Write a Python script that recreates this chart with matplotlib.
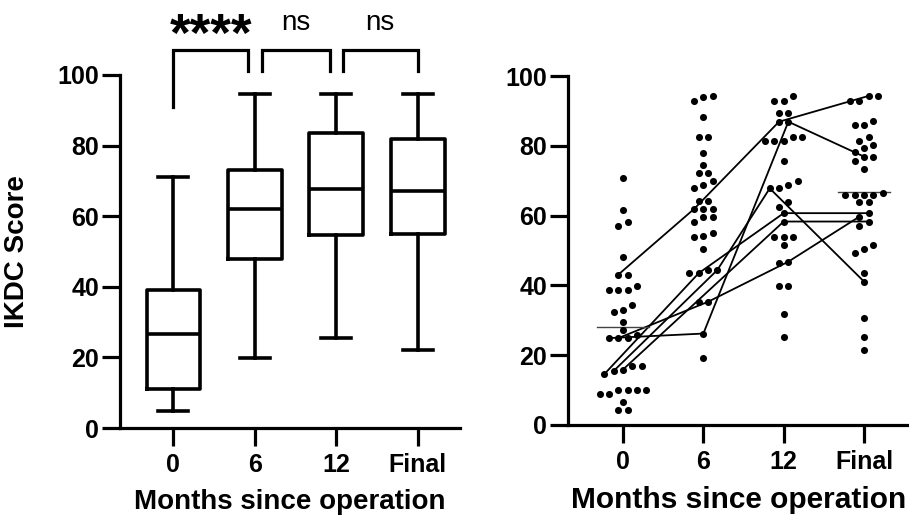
import numpy as np
import matplotlib
matplotlib.use("Agg")
import matplotlib.pyplot as plt

plt.rcParams["font.family"] = ["Liberation Sans", "DejaVu Sans"]

#DATA
groups = ["0", "6", "12", "Final"]

# box summary (min, q1, median, q3, max)
box_min = [4.8, 19.8, 25.5, 22.0]
box_q1 = [11.0, 48.0, 54.7, 55.0]
box_med = [26.6, 62.0, 67.7, 67.0]
box_q3 = [39.0, 73.0, 83.5, 82.0]
box_max = [71.0, 94.5, 94.5, 94.5]

sig_labels = ["****", "ns", "ns"]

# individual IKDC scores (right panel)
scores_0 = [70.9, 61.6, 58.1, 57.1, 48.1, 43.1, 43.1, 39.8, 38.6, 38.6, 38.6,
            34.3, 32.9, 32.4, 29.5, 27.3, 25.7, 24.9, 24.9, 24.9, 16.9, 16.9,
            15.9, 15.5, 14.6, 10.0, 10.0, 10.0, 10.0, 8.9, 8.9, 6.7, 4.3, 4.3]
scores_6 = [94.3, 94.1, 92.8, 88.2, 82.4, 82.4, 78.0, 74.5, 72.1, 72.1, 70.0,
            68.8, 67.8, 64.2, 64.2, 61.9, 61.9, 61.9, 59.7, 59.7, 58.3, 54.9,
            54.2, 54.0, 50.3, 44.4, 44.4, 43.5, 43.5, 35.3, 35.3, 26.2, 19.3]
scores_12 = [94.3, 92.8, 92.8, 89.5, 89.5, 86.9, 86.9, 82.6, 82.6, 81.4, 81.4,
             81.4, 75.6, 70.0, 68.8, 67.8, 67.8, 64.0, 62.6, 60.7, 58.3, 54.0,
             54.0, 54.0, 51.6, 46.8, 46.3, 39.8, 39.8, 31.8, 25.1]
scores_final = [94.3, 94.3, 92.8, 92.8, 87.1, 86.0, 86.0, 82.4, 81.4, 80.2,
                79.3, 78.3, 76.9, 76.9, 75.6, 73.4, 66.4, 65.9, 65.9, 65.9,
                65.9, 64.0, 64.0, 60.7, 59.7, 58.3, 57.1, 51.6, 50.3, 49.2,
                43.5, 41.1, 30.7, 25.1, 21.5]

# patients followed across visits (nan = visit missing)
paired = [
    [43.1, 61.9, 86.9, 94.3],
    [24.9, 26.2, 86.9, 76.9],
    [24.9, 35.3, 46.8, 59.7],
    [15.9, np.nan, 58.3, 58.3],
    [14.6, 43.5, 60.7, 60.7],
    [15.5, 44.4, 67.8, 41.1],
]

median_groups = [0, 3]
median_vals = [28.0, 66.7]

#FIGURE
W, H = 909, 517
fig = plt.figure(figsize=(W / 100, H / 100), dpi=100)

BOLD = dict(fontweight="bold")
SPINE_W = 2.3
TICK_LEN = 13


def style_axes(ax, tick_size):
    for side in ["top", "right"]:
        ax.spines[side].set_visible(False)
    for side in ["left", "bottom"]:
        ax.spines[side].set_linewidth(SPINE_W)
    ax.tick_params(width=SPINE_W, length=TICK_LEN, pad=2, labelsize=tick_size)
    ax.tick_params(axis="x", pad=5)
    ax.set_ylim(0, 100)
    ax.set_yticks([0, 20, 40, 60, 80, 100])
    ax.set_xticks(range(len(groups)))
    ax.set_xticklabels(groups)
    for lab in ax.get_xticklabels() + ax.get_yticklabels():
        lab.set_fontweight("bold")


# left panel: box plots
ax1 = fig.add_axes([120 / W, 1 - 428 / H, 340 / W, 353 / H])
stats = []
for i in range(len(groups)):
    stats.append(dict(whislo=box_min[i], q1=box_q1[i], med=box_med[i],
                      q3=box_q3[i], whishi=box_max[i]))
lw = 2.6
ax1.bxp(stats, positions=range(len(groups)), widths=0.66, capwidths=0.37,
        showfliers=False,
        boxprops=dict(linewidth=lw, color="black"),
        medianprops=dict(linewidth=lw, color="black"),
        whiskerprops=dict(linewidth=lw, color="black"),
        capprops=dict(linewidth=lw, color="black"))
ax1.set_xlim(-0.656, 3.52)
style_axes(ax1, 18)
ax1.set_ylabel("IKDC Score", fontsize=20, **BOLD)
ax1.yaxis.set_label_coords(-0.265, 0.5)
ax1.set_xlabel("Months since operation", fontsize=20, **BOLD)
ax1.xaxis.set_label_coords(0.5, -0.172)

# significance brackets
br_top = 107
br_x = [(0.0, 0.915), (1.085, 1.92), (2.08, 3.0)]
br_low = [(91, 101), (101, 101), (101, 101)]
for (xa, xb), (ya, yb), lab in zip(br_x, br_low, sig_labels):
    ax1.plot([xa, xa, xb, xb], [ya, br_top, br_top, yb], color="black",
             lw=2.3, clip_on=False, solid_joinstyle="miter")
    if lab.startswith("*"):
        ax1.text((xa + xb) / 2, 106.8, lab, ha="center", va="baseline",
                 fontsize=38, fontweight="bold", clip_on=False)
    else:
        ax1.text((xa + xb) / 2, 111, lab, ha="center", va="bottom",
                 fontsize=20, clip_on=False)

# right panel: individual dots
ax2 = fig.add_axes([568 / W, 1 - 425 / H, 341 / W, 349 / H])
x_lo, x_hi = -0.685, 3.56
ax2.set_xlim(x_lo, x_hi)
px_x = 341 / (x_hi - x_lo)   # pixels per x unit
dot_gap = 9.3 / px_x         # horizontal spacing of dots in a row


def swarm_offsets(vals, gap=1.5, span=2.5):
    # graphpad-like rows: close values sit side by side, centred
    vals = np.asarray(vals)
    order = np.argsort(vals)
    offs = np.zeros(len(vals))
    rows, cur = [], [order[0]]
    for a, b in zip(order[:-1], order[1:]):
        if vals[b] - vals[a] > gap or vals[b] - vals[cur[0]] > span:
            rows.append(cur)
            cur = [b]
        else:
            cur.append(b)
    rows.append(cur)
    for row in rows:
        n = len(row)
        for k, idx in enumerate(row):
            offs[idx] = (k - (n - 1) / 2) * dot_gap
    return offs


all_scores = [scores_0, scores_6, scores_12, scores_final]
positions = []
for g, vals in enumerate(all_scores):
    xs = g + swarm_offsets(vals)
    positions.append(xs)
    ax2.scatter(xs, vals, s=26, color="black", zorder=3, linewidths=0)

# connect paired patients
used = [set() for _ in all_scores]
for traj in paired:
    px, py = [], []
    for g, v in enumerate(traj):
        if np.isnan(v):
            continue
        vals = all_scores[g]
        idx = [i for i, s in enumerate(vals) if s == v]
        free = [i for i in idx if i not in used[g]]
        pick = free[0] if free else idx[0]
        used[g].add(pick)
        px.append(positions[g][pick])
        py.append(v)
    ax2.plot(px, py, color="black", lw=1.3, zorder=2)

for g, m in zip(median_groups, median_vals):
    ax2.plot([g - 0.32, g + 0.32], [m, m], color="#444444", lw=1.0, zorder=2)

style_axes(ax2, 18)
ax2.set_xlabel("Months since operation", fontsize=21.5, **BOLD)
ax2.xaxis.set_label_coords(0.5, -0.175)

fig.savefig("out.png", dpi=100)
